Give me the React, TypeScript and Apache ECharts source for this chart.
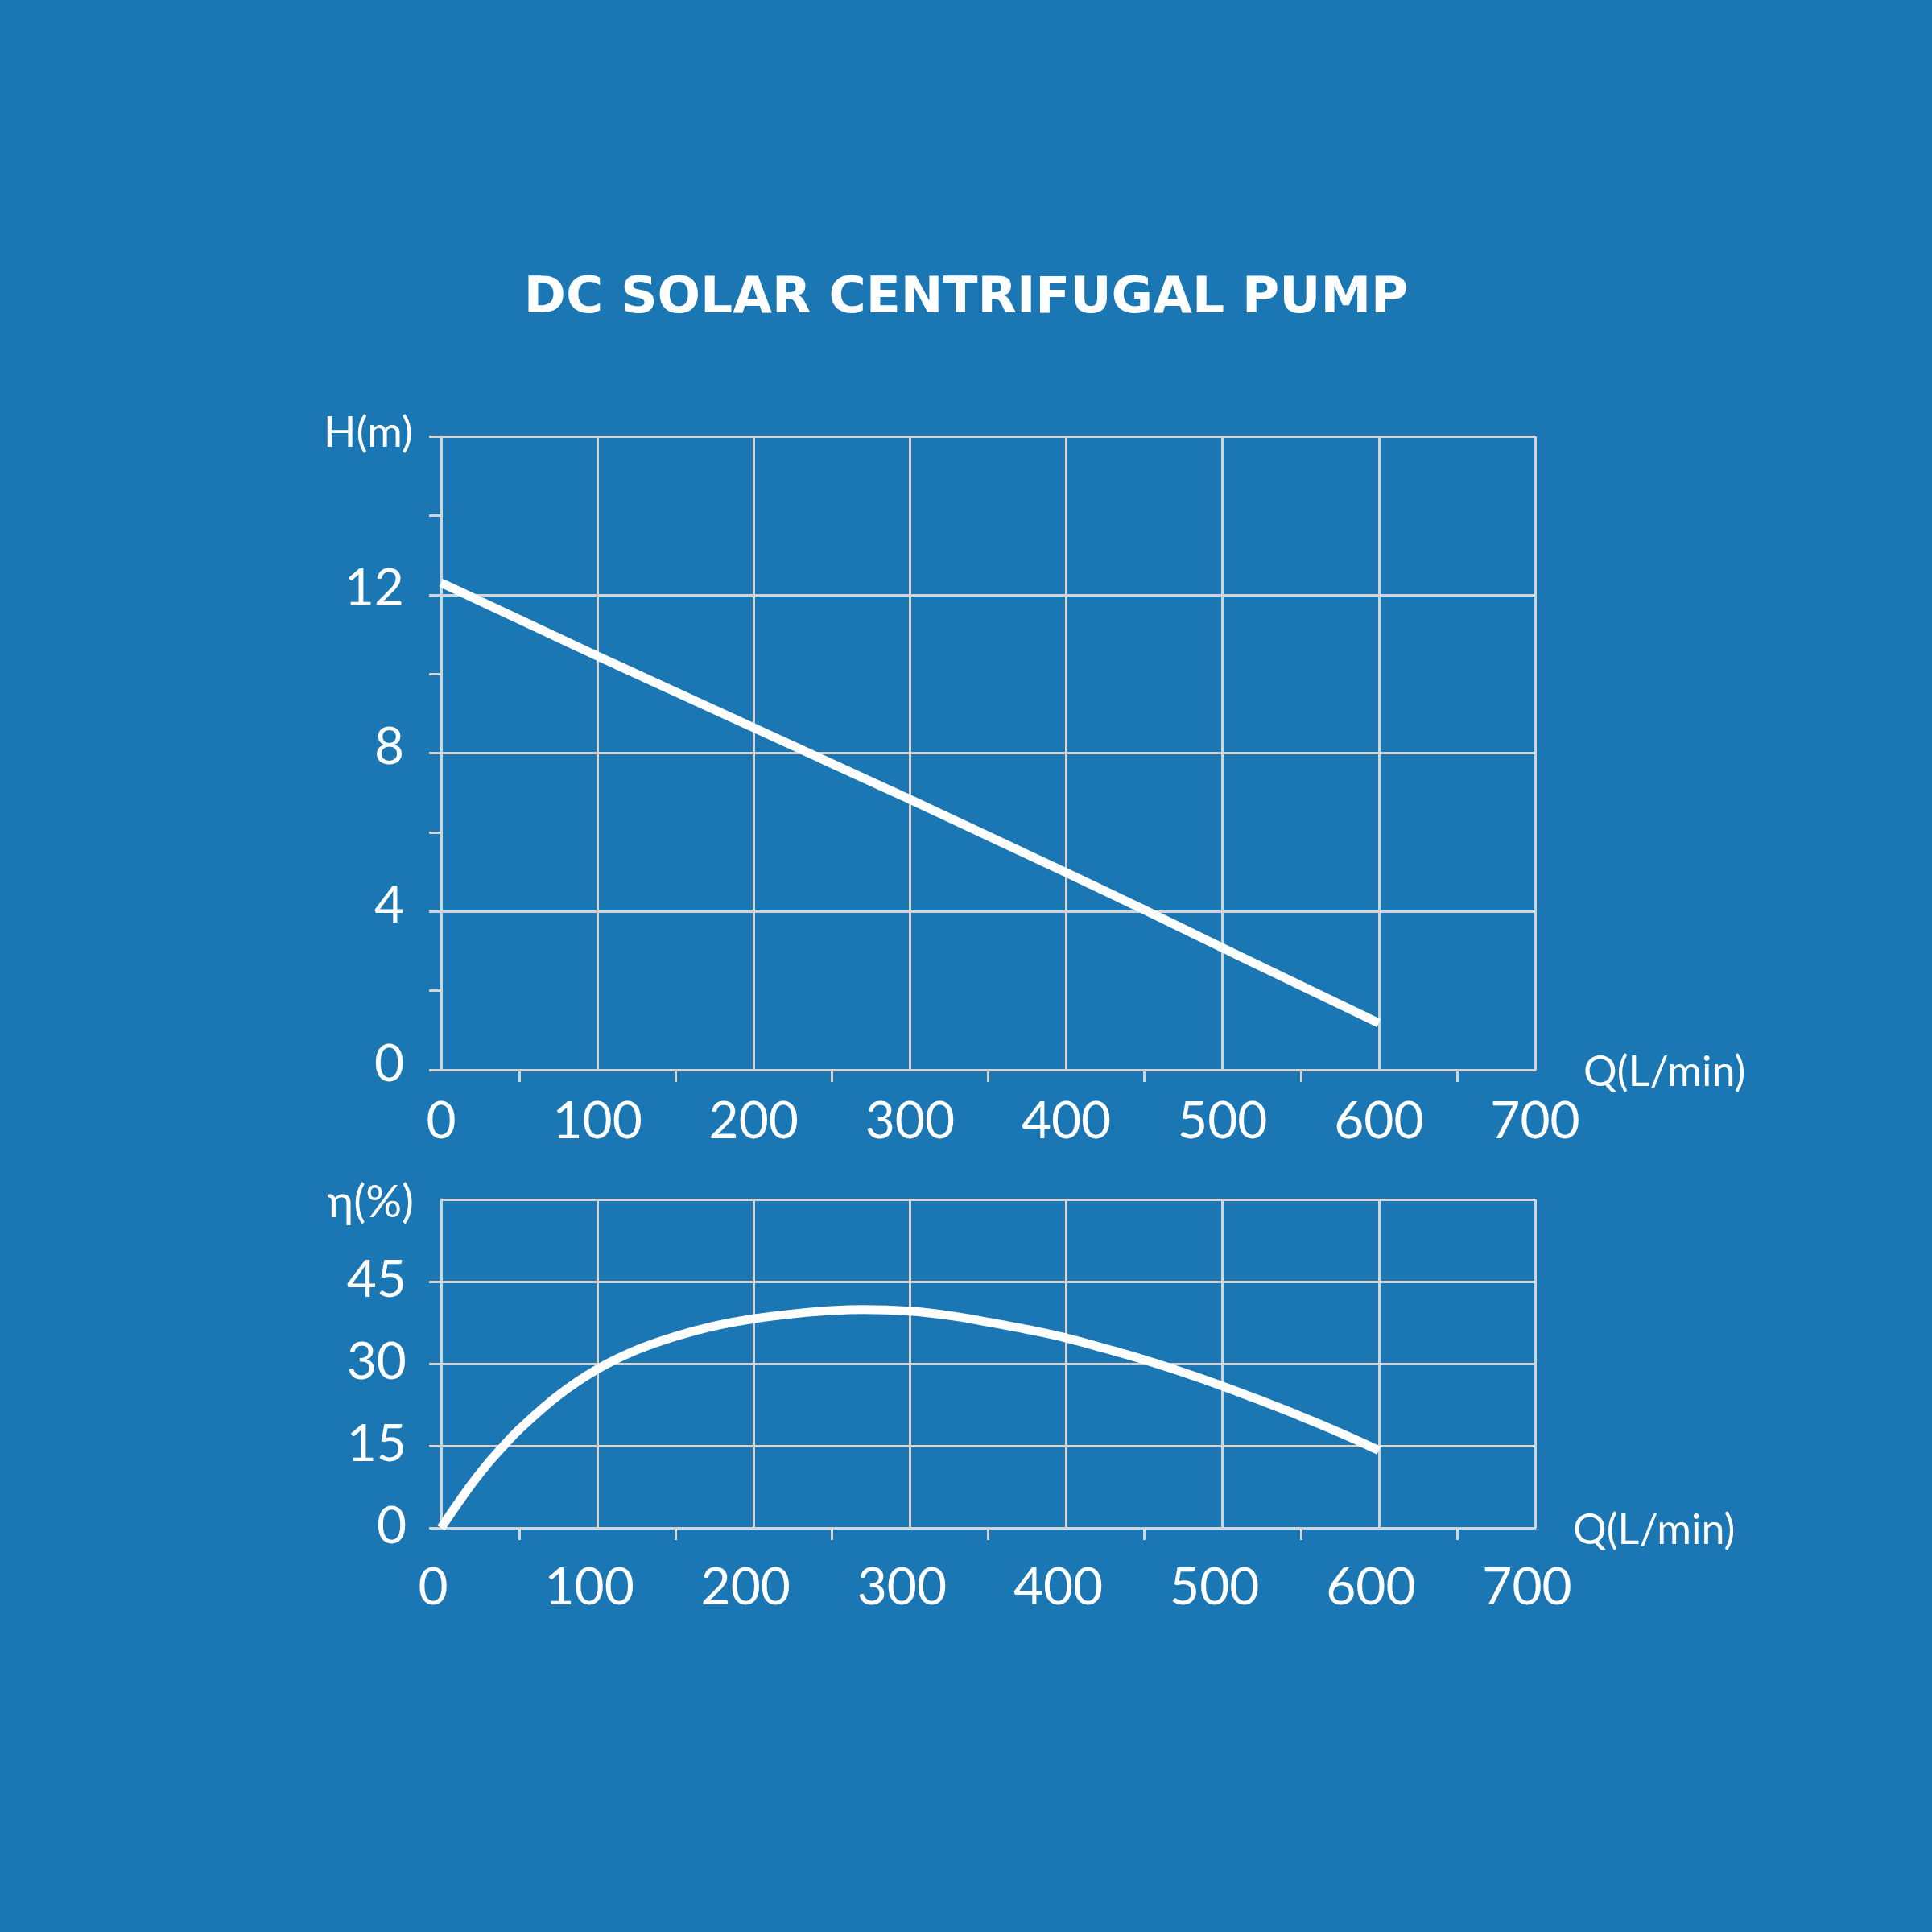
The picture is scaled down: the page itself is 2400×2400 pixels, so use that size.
import React, { useEffect, useRef } from "react";
import * as echarts from "echarts";

// Pump curve data
const flowHead = [0, 100, 200, 300, 400, 450, 500, 600];
const headValues = [12.3, 10.45, 8.64, 6.83, 4.98, 4.04, 3.08, 1.18];

const flowEff = [0, 10, 20, 30, 40, 50, 75, 100, 125, 150, 175, 200, 225, 250, 270, 300, 325, 350, 375, 400, 425, 450, 475, 500, 525, 550, 575, 600];
const effValues = [0, 4.2, 8.2, 11.8, 15.0, 18.0, 24.2, 29.0, 32.5, 35.0, 36.9, 38.2, 39.1, 39.7, 39.9, 39.6, 38.8, 37.6, 36.25, 34.7, 32.75, 30.7, 28.4, 25.9, 23.2, 20.4, 17.4, 14.15];

const TITLE = "DC SOLAR CENTRIFUGAL PUMP";
const X_NAME = "Q(L/min)";
const H_NAME = "H(m)";
const E_NAME = "η(%)";

const BG = "#1B77B3";
const GRID = "#d4d4d4";
const WHITE = "#ffffff";
const FONT = "Lato";

export default function App() {
  const ref = useRef<HTMLDivElement>(null);

  useEffect(() => {
    document.body.style.margin = "0";
    document.body.style.background = BG;
    const chart = echarts.init(ref.current!, null, { renderer: "svg" });

    const xAxisBase = (gridIndex: number, nameGap: number, namePad: number[], labelMargin: number, labelPad: number[]) => ({
      type: "value",
      gridIndex,
      min: 0,
      max: 700,
      interval: 100,
      name: X_NAME,
      nameLocation: "end",
      nameGap,
      nameTextStyle: {
        color: WHITE,
        fontSize: 52,
        fontFamily: FONT,
        align: "left",
        verticalAlign: "middle",
        padding: namePad,
      },
      axisLine: { show: true, lineStyle: { color: GRID, width: 3 } },
      axisTick: { show: false },
      minorTick: { show: true, splitNumber: 2, length: 15, lineStyle: { color: GRID, width: 3 } },
      minorSplitLine: { show: false },
      splitLine: { show: true, lineStyle: { color: GRID, width: 3 } },
      axisLabel: {
        color: WHITE,
        fontSize: 64,
        fontFamily: FONT,
        margin: labelMargin,
        padding: labelPad,
      },
    });

    const option = {
      animation: false,
      backgroundColor: BG,
      title: {
        text: TITLE,
        left: "center",
        top: 330,
        textStyle: {
          color: WHITE,
          fontSize: 63,
          fontWeight: "bold",
          fontFamily: "DejaVu Sans",
        },
      },
      grid: [
        { left: 548, right: 493, top: 542, bottom: 1071, containLabel: false },
        { left: 548, right: 493, top: 1490, bottom: 502, containLabel: false },
      ],
      xAxis: [
        xAxisBase(0, 60, [0, 0, 20, 0], 28, [0, 0, 0, 0]),
        xAxisBase(1, 47, [0, 0, 6, 0], 38, [0, 20, 0, 0]),
      ],
      yAxis: [
        {
          type: "value",
          gridIndex: 0,
          min: 0,
          max: 16,
          interval: 4,
          name: H_NAME,
          nameLocation: "end",
          nameGap: 8,
          nameTextStyle: {
            color: WHITE,
            fontSize: 53,
            fontFamily: FONT,
            align: "right",
            verticalAlign: "middle",
            padding: [0, 35, 0, 0],
          },
          axisLine: { show: true, lineStyle: { color: GRID, width: 3 } },
          axisTick: { show: true, length: 15, lineStyle: { color: GRID, width: 3 } },
          minorTick: { show: true, splitNumber: 2, length: 15, lineStyle: { color: GRID, width: 3 } },
          minorSplitLine: { show: false },
          splitLine: { show: true, lineStyle: { color: GRID, width: 3 } },
          axisLabel: {
            color: WHITE,
            fontSize: 64,
            fontFamily: FONT,
            margin: 46,
            showMaxLabel: false,
            verticalAlign: "bottom",
            lineHeight: 22,
          },
        },
        {
          type: "value",
          gridIndex: 1,
          min: 0,
          max: 60,
          interval: 15,
          name: E_NAME,
          nameLocation: "end",
          nameGap: 0,
          nameTextStyle: {
            color: WHITE,
            fontSize: 56,
            fontFamily: FONT,
            align: "right",
            verticalAlign: "middle",
            padding: [0, 34, 0, 0],
          },
          axisLine: { show: true, lineStyle: { color: GRID, width: 3 } },
          axisTick: { show: true, length: 15, lineStyle: { color: GRID, width: 3 } },
          splitLine: { show: true, lineStyle: { color: GRID, width: 3 } },
          axisLabel: {
            color: WHITE,
            fontSize: 64,
            fontFamily: FONT,
            margin: 43,
            showMaxLabel: false,
            verticalAlign: "bottom",
            lineHeight: 12,
          },
        },
      ],
      series: [
        {
          type: "line",
          xAxisIndex: 0,
          yAxisIndex: 0,
          data: flowHead.map((q, i) => [q, headValues[i]]),
          showSymbol: false,
          symbol: "none",
          smooth: false,
          lineStyle: { color: WHITE, width: 11, cap: "butt" },
        },
        {
          type: "line",
          xAxisIndex: 1,
          yAxisIndex: 1,
          data: flowEff.map((q, i) => [q, effValues[i]]),
          showSymbol: false,
          symbol: "none",
          smooth: 0.4,
          lineStyle: { color: WHITE, width: 11, cap: "butt" },
        },
      ],
    };

    chart.setOption(option as any);
    return () => chart.dispose();
  }, []);

  return <div ref={ref} style={{ width: 2400, height: 2400, background: BG }} />;
}
